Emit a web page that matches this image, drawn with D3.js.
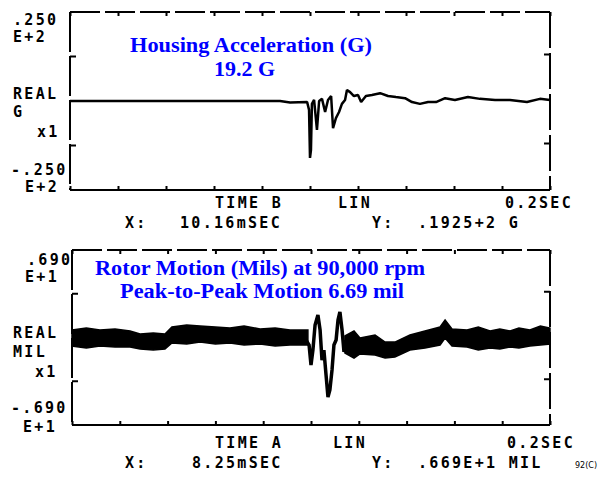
<!DOCTYPE html>
<html>
<head>
<meta charset="utf-8">
<script src="https://cdn.jsdelivr.net/npm/d3@7"></script>
<style>
  body { margin: 0; background: #fff; }
  .lcd { font-family: "DejaVu Sans Mono", monospace; font-weight: bold; font-size: 15px; letter-spacing: 2.3px; fill: #000; }
  .note { font-family: "Liberation Serif", "Times New Roman", serif; font-weight: bold; font-size: 20px; fill: #0000ff; }
</style>
</head>
<body>
<div id="chart"></div>
<script>
// Housing acceleration trace (time in s, value in G)
const accTime = [0, 0.0542, 0.075, 0.0875, 0.0917, 0.0988, 0.0996, 0.1000, 0.1004, 0.1008, 0.1017, 0.1029,
  0.1038, 0.105, 0.1063, 0.1075, 0.1088, 0.1096, 0.1108, 0.1121, 0.1133, 0.1146, 0.1154, 0.1167, 0.1183,
  0.12, 0.1213, 0.1233, 0.1258, 0.1292, 0.1325, 0.1358, 0.1396, 0.1425, 0.1458, 0.1492, 0.1525, 0.1563,
  0.1604, 0.1658, 0.1708, 0.1771, 0.1833, 0.1904, 0.1958, 0.2];
const accG = [0, 0, 0, 0, -0.4, -0.3, -2.5, -16, -13.8, -0.8, 0.3, -8.1,
  0, 0.6, -3.1, 0.3, 1.4, -7.6, -4.8, -3.1, -0.8, 0.3, 3.1, 2.5, 1.4,
  1.7, -0.3, 1.4, 1.7, 2.2, 1.4, 1.1, 0.8, -0.3, -0.8, -0.3, -0.3, 0.8,
  0.3, 1.1, 0.6, 0.3, 0.3, -0.3, 0.6, 0.3];

// Rotor motion band (envelope of the 90,000 rpm orbit), mils; null = break for the event
const rotorTime = [0, 0.0060, 0.0117, 0.0180, 0.0243, 0.0285, 0.0340, 0.0389, 0.0418, 0.0480, 0.0536, 0.0600,
  0.0661, 0.0720, 0.0787, 0.0850, 0.0912, 0.0987, null,
  0.1142, 0.1180, 0.1205, 0.1268, 0.1310, 0.1351, 0.1414, 0.1477, 0.1540, 0.1561, 0.1590, 0.1653, 0.1700,
  0.1749, 0.1790, 0.1833, 0.1870, 0.1916, 0.1960, 0.2];
const rotorUpper = [0.59, 0.75, 0.59, 0.67, 0.51, 0.28, 0.36, 0.28, 0.83, 0.99, 0.91, 0.83,
  0.75, 0.91, 0.67, 0.75, 0.59, 0.59, null,
  0.12, 0.51, -0.04, 0.20, -0.36, -0.36, 0.20, 0.51, 0.83, 1.38, 0.67, 0.59, 0.83,
  0.51, 0.67, 0.51, 0.75, 0.59, 0.91, 0.75];
const rotorLower = [-0.67, -0.83, -0.67, -0.75, -0.75, -0.91, -0.99, -0.91, -0.43, -0.51, -0.36, -0.51,
  -0.43, -0.59, -0.51, -0.67, -0.59, -0.59, null,
  -1.22, -1.62, -1.30, -1.38, -1.62, -1.54, -0.99, -0.83, -0.59, -0.04, -0.67, -0.75, -0.99,
  -0.83, -0.91, -0.75, -0.83, -0.67, -0.59, -0.51];

// Rotor motion during the event
const eventTime = [0.0979, 0.0992, 0.1000, 0.1008, 0.1017, 0.1029, 0.1038, 0.1046, 0.1054, 0.1063, 0.1071,
  0.1079, 0.1088, 0.1096, 0.1105, 0.1113, 0.1121, 0.1130, 0.1138, 0.1146];
const eventMil = [-0.2, -0.59, -2.17, -0.99, 0.99, 1.78, 0.59, -1.78, -0.99, -2.96, -4.69,
  -4.14, -2.56, -0.59, -0.20, 1.38, 2.01, 0.59, -1.14, -0.2];

const W = 615, H = 477;
const svg = d3.select('#chart').append('svg')
  .attr('width', W).attr('height', H);

function panel(box, yMax, title) {
  const x = d3.scaleLinear().domain([0, 0.2]).range([box.left, box.right]);
  const y = d3.scaleLinear().domain([-yMax, yMax]).range([box.bottom, box.top]);
  const g = svg.append('g');

  // division ticks along top and bottom
  g.append('g')
    .attr('transform', `translate(0,${box.bottom})`)
    .call(d3.axisBottom(x).ticks(10).tickFormat('').tickSizeInner(-4).tickSizeOuter(0))
    .call(a => a.select('.domain').remove())
    .selectAll('line').attr('stroke', '#000').attr('stroke-width', 2);
  g.append('g')
    .attr('transform', `translate(0,${box.top})`)
    .call(d3.axisTop(x).ticks(10).tickFormat('').tickSizeInner(-4).tickSizeOuter(0))
    .call(a => a.select('.domain').remove())
    .selectAll('line').attr('stroke', '#000').attr('stroke-width', 2);
  // half-scale ticks on the sides
  const yt = [-yMax / 2, yMax / 2];
  g.selectAll('.lt').data(yt).enter().append('line')
    .attr('x1', box.left).attr('x2', box.left + 6)
    .attr('y1', d => y(d)).attr('y2', d => y(d))
    .attr('stroke', '#000').attr('stroke-width', 2);
  g.selectAll('.rt').data(yt).enter().append('line')
    .attr('x1', box.right).attr('x2', box.right - 6)
    .attr('y1', d => y(d) - 2).attr('y2', d => y(d) - 2)
    .attr('stroke', '#000').attr('stroke-width', 2);

  // frame
  const edge = (x1, y1, x2, y2, dash) => g.append('line')
    .attr('x1', x1).attr('y1', y1).attr('x2', x2).attr('y2', y2)
    .attr('stroke', '#000').attr('stroke-width', 2)
    .attr('stroke-dasharray', dash);
  edge(box.left, box.bottom, box.right, box.bottom, null);
  edge(box.left, box.top, box.left, box.bottom, '40,4');
  edge(box.left, box.top, box.right, box.top, '30,5');
  edge(box.right, box.top, box.right, box.bottom, '36,5');

  // blue annotation
  title.forEach(t => g.append('text').attr('class', 'note')
    .attr('x', t.x).attr('y', t.y)
    .attr('textLength', t.w).attr('lengthAdjust', 'spacingAndGlyphs')
    .text(t.s));
  return {x, y, g};
}

function lcd(x, y, s) {
  svg.append('text').attr('class', 'lcd').attr('x', x).attr('y', y).text(s);
}

// ---------- top panel ----------
const accPanel = panel({left: 70, right: 550, top: 12, bottom: 190}, 25, [
  {x: 130, y: 52, w: 242, s: 'Housing Acceleration (G)'},
  {x: 214, y: 76, w: 61, s: '19.2 G'}
]);
const accData = accTime.map((t, i) => [t, accG[i]]);
accPanel.g.append('path')
  .datum(accData)
  .attr('fill', 'none')
  .attr('stroke', '#000')
  .attr('stroke-width', 2.5)
  .attr('stroke-linejoin', 'bevel')
  .attr('d', d3.line().x(d => accPanel.x(d[0])).y(d => accPanel.y(d[1])));

lcd(13, 25, '.250');
lcd(13, 42, 'E+2');
lcd(13, 99, 'REAL');
lcd(13, 117, 'G');
lcd(37, 137, 'x1');
lcd(11, 175, '-.250');
lcd(25, 192, 'E+2');
lcd(215, 208, 'TIME B');
lcd(338, 208, 'LIN');
lcd(505, 208, '0.2SEC');
lcd(125, 228, 'X:');
lcd(180, 228, '10.16mSEC');
lcd(372, 228, 'Y:');
lcd(418, 228, '.1925+2 G');

// ---------- bottom panel ----------
const rotorPanel = panel({left: 72, right: 550, top: 250, bottom: 425}, 6.9, [
  {x: 95, y: 275, w: 330, s: 'Rotor Motion (Mils) at 90,000 rpm'},
  {x: 120, y: 298, w: 284, s: 'Peak-to-Peak Motion 6.69 mil'}
]);
const band = rotorTime.map((t, i) => ({t, hi: rotorUpper[i], lo: rotorLower[i]}));
rotorPanel.g.append('path')
  .datum(band)
  .attr('fill', '#000')
  .attr('stroke', '#000')
  .attr('stroke-width', 1.5)
  .attr('d', d3.area().defined(d => d.t !== null)
    .x(d => rotorPanel.x(d.t)).y0(d => rotorPanel.y(d.lo)).y1(d => rotorPanel.y(d.hi)));
const ev = eventTime.map((t, i) => [t, eventMil[i]]);
rotorPanel.g.append('path')
  .datum(ev)
  .attr('fill', 'none')
  .attr('stroke', '#000')
  .attr('stroke-width', 3.5)
  .attr('d', d3.line().x(d => rotorPanel.x(d[0])).y(d => rotorPanel.y(d[1])));

lcd(27, 265, '.690');
lcd(25, 282, 'E+1');
lcd(13, 338, 'REAL');
lcd(13, 357, 'MIL');
lcd(35, 377, 'x1');
lcd(11, 413, '-.690');
lcd(23, 432, 'E+1');
lcd(215, 448, 'TIME A');
lcd(333, 448, 'LIN');
lcd(507, 448, '0.2SEC');
lcd(125, 468, 'X:');
lcd(192, 468, '8.25mSEC');
lcd(372, 468, 'Y:');
lcd(418, 468, '.669E+1 MIL');
svg.append('text').attr('x', 575).attr('y', 468)
  .style('font-family', 'DejaVu Sans').style('font-size', '8px').text('92(C)');
</script>
</body>
</html>
